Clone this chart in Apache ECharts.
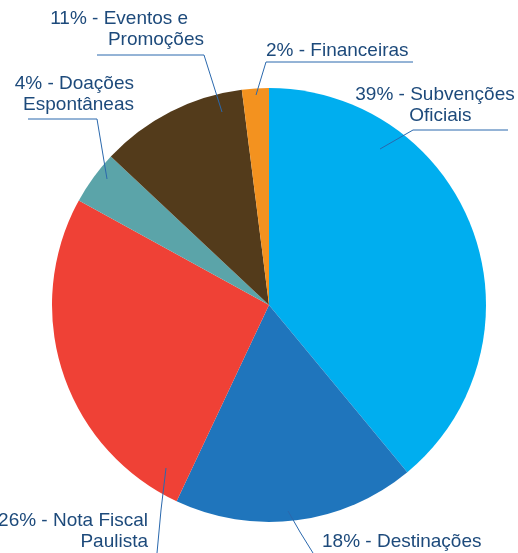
<!DOCTYPE html>
<html>
<head>
<meta charset="utf-8">
<script src="https://cdn.jsdelivr.net/npm/echarts@6/dist/echarts.min.js"></script>
<style>
    html, body { margin: 0; padding: 0; background: #fff; }
    #pie { width: 518px; height: 553px; }
</style>
</head>
<body>
<div id="pie"></div>
<script type="text/javascript">
    // dados do gráfico
    var categories = ['Subvenções Oficiais', 'Destinações', 'Nota Fiscal Paulista', 'Doações Espontâneas', 'Eventos e Promoções', 'Financeiras'];
    var values = [39, 18, 26, 4, 11, 2];
    var labelTexts = [
        '39% - Subvenções\n  Oficiais',
        '18% - Destinações',
        '26% - Nota Fiscal\nPaulista',
        '4% - Doações\nEspontâneas',
        '11% - Eventos e   \nPromoções',
        '2% - Financeiras'
    ];
    var colors = ['#00aeef', '#1f75bc', '#ef4136', '#5ba4a9', '#533b1b', '#f3921f'];

    // posição dos rótulos e das linhas guia
    var labelPos = [
        { x: 435, y: 84, align: 'center', line: [[380, 149], [413, 130], [508, 130]] },
        { x: 322, y: 531, align: 'left', line: [[288, 511], [300, 532], [313, 553]] },
        { x: 148, y: 510, align: 'right', line: [[166, 468], [161, 510], [157, 553]] },
        { x: 134, y: 73, align: 'right', line: [[107, 179], [97, 119], [28, 119]] },
        { x: 204, y: 8, align: 'right', line: [[222, 112], [204, 55], [97, 55]] },
        { x: 266, y: 40, align: 'left', line: [[256, 95], [266, 62], [413, 62]] }
    ];

    var pie = echarts.init(document.getElementById('pie'));

    var option = {
        animation: false,
        series: [{
            // fatias
            type: 'pie',
            center: [269, 305],
            radius: 217,
            startAngle: 90,
            silent: true,
            itemStyle: { borderWidth: 0 },
            label: { show: false },
            labelLine: { show: false },
            data: categories.map(function (name, i) {
                return { name: name, value: values[i], itemStyle: { color: colors[i] } };
            })
        }, {
            // rótulos e linhas guia por cima das fatias
            type: 'pie',
            z: 5,
            center: [269, 305],
            radius: 217,
            startAngle: 90,
            silent: true,
            avoidLabelOverlap: false,
            itemStyle: { color: 'rgba(0,0,0,0)', borderWidth: 0 },
            label: {
                show: true,
                position: 'outside',
                color: '#1d4a7b',
                fontFamily: 'Liberation Sans, Arial, sans-serif',
                fontSize: 19,
                lineHeight: 21,
                formatter: function (p) {
                    return labelTexts[p.dataIndex];
                }
            },
            labelLine: {
                show: true,
                showAbove: true,
                lineStyle: { color: '#2a68ad', width: 1 }
            },
            labelLayout: function (params) {
                var pos = labelPos[params.dataIndex];
                return {
                    x: pos.x,
                    y: pos.y,
                    align: pos.align,
                    verticalAlign: 'top',
                    labelLinePoints: pos.line
                };
            },
            data: categories.map(function (name, i) {
                return { name: name, value: values[i] };
            })
        }]
    };

    pie.setOption(option);
</script>
</body>
</html>
